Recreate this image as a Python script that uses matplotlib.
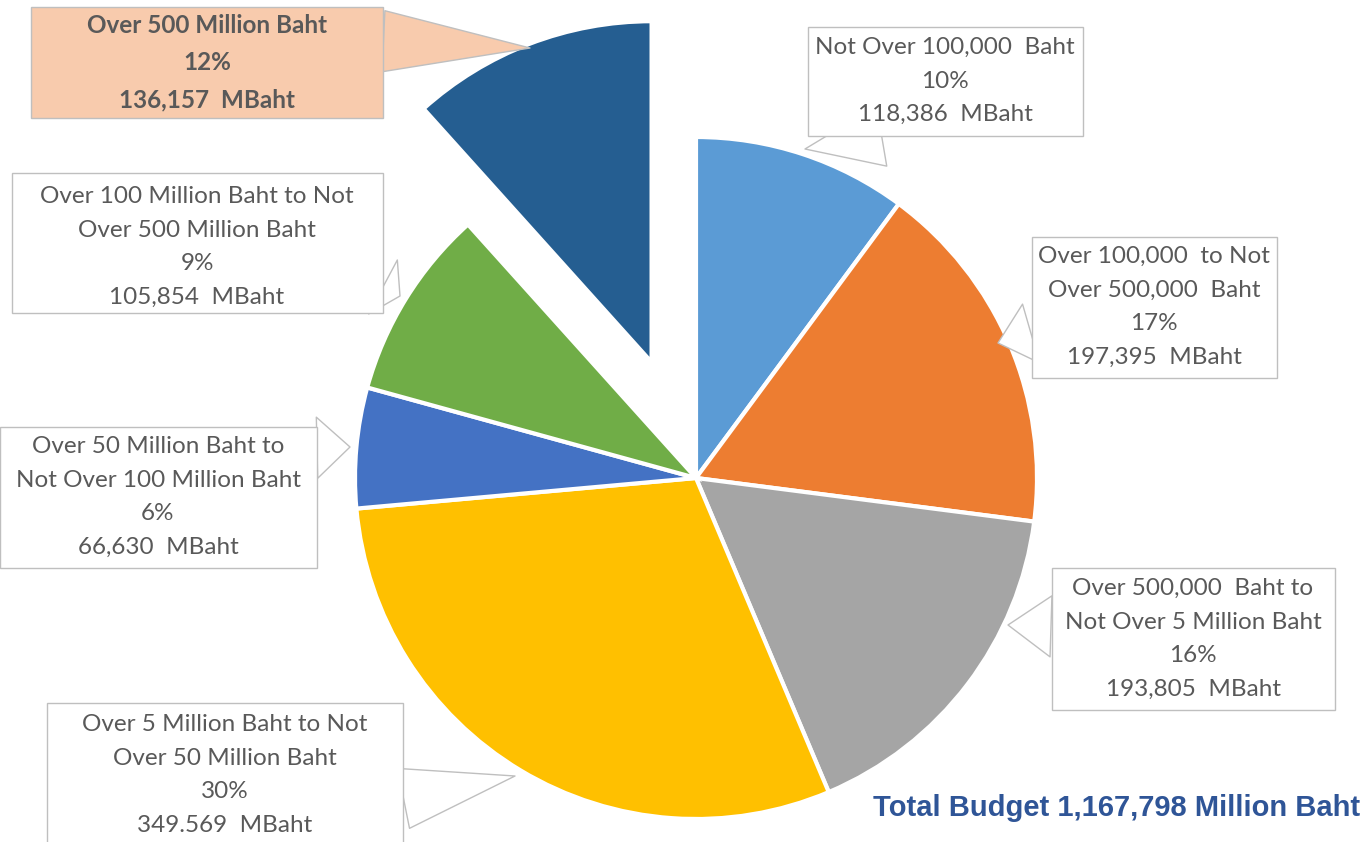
import matplotlib.pyplot as plt
from matplotlib.path import Path

# budget by contract size (million baht), clockwise from 12 o'clock
categories = [
    "Not Over 100,000  Baht",
    "Over 100,000  to Not\nOver 500,000  Baht",
    "Over 500,000  Baht to\nNot Over 5 Million Baht",
    "Over 5 Million Baht to Not\nOver 50 Million Baht",
    "Over 50 Million Baht to\nNot Over 100 Million Baht",
    "Over 100 Million Baht to Not\nOver 500 Million Baht",
    "Over 500 Million Baht",
]
values = [118386, 197395, 193805, 349569, 66630, 105854, 136157]
percents = ["10%", "17%", "16%", "30%", "6%", "9%", "12%"]
value_text = ["118,386", "197,395", "193,805", "349.569", "66,630", "105,854", "136,157"]
colors = ["#5B9BD5", "#ED7D31", "#A5A5A5", "#FFC000", "#4472C4", "#70AD47", "#255E91"]
total_text = "Total Budget 1,167,798 Million Baht"

W, H = 1365, 842

fig = plt.figure(figsize=(W / 100, H / 100), dpi=100)
ax = fig.add_axes([0, 0, 1, 1])

explode = [0, 0, 0, 0, 0, 0, 124]
ax.pie(values, colors=colors, startangle=90, counterclock=False,
       explode=explode, center=(696, H - 478), radius=341,
       wedgeprops=dict(edgecolor="white", linewidth=3))
ax.set_xlim(0, W)
ax.set_ylim(0, H)
ax.set_aspect("equal")
ax.axis("off")


def fixed_box(bw, bh, dy=0):
    # excel style label box of a fixed size, centred on the text
    def style(x0, y0, width, height, mutation_size):
        cx = x0 + width / 2
        cy = y0 + height / 2 + dy
        l, r = cx - bw / 2, cx + bw / 2
        b, t = cy - bh / 2, cy + bh / 2
        return Path([(l, b), (r, b), (r, t), (l, t), (l, b)], closed=True)
    return style


# callout boxes: text centre, box size, pointer tip (pixels from top-left)
box_pos = [(945, 81), (1154, 307), (1193, 639), (225, 775),
           (158, 497), (197, 247), (207, 63)]
box_size = [(275, 109), (245, 141), (283, 142), (356, 144),
            (317, 141), (371, 140), (352, 111)]
box_dy = [0, 0, 0, 0, 0, 4, 1]
tips = [(805, 149), (998, 343), (1008, 625), (515, 776),
        (350, 447), (400, 296), (530, 48)]
# where the pointer leaves the text block
rel = [(0.5, 0.0), (0.0, 0.3), (0.0, 0.6), (1.0, 0.25),
       (1.0, 0.9), (1.0, 0.3), (1.0, 0.75)]

for i, cat in enumerate(categories):
    txt = f"{cat}\n{percents[i]}\n{value_text[i]}  MBaht"
    last = i == len(categories) - 1
    fc = "#F8CBAD" if last else "white"
    bx, by = box_pos[i]
    tx, ty = tips[i]
    bw, bh = box_size[i]
    ax.annotate(txt, xy=(tx, H - ty), xytext=(bx, H - by),
                ha="center", va="center", multialignment="center",
                fontsize=17.5, family="Lato", color="#595959",
                fontweight="bold" if last else "normal",
                linespacing=1.75,
                bbox=dict(boxstyle=fixed_box(bw, bh, box_dy[i]), fc=fc, ec="#BFBFBF", lw=1),
                arrowprops=dict(arrowstyle="wedge,tail_width=2.2,shrink_factor=0.5",
                                fc=fc, ec="#BFBFBF", lw=1, mutation_scale=20,
                                shrinkA=0, shrinkB=0, relpos=rel[i]))

ax.text(1360, H - 808, total_text, ha="right", va="center",
        fontsize=21, fontweight="bold", family="Liberation Sans", color="#2F5597")

fig.savefig("out.png", dpi=100)
